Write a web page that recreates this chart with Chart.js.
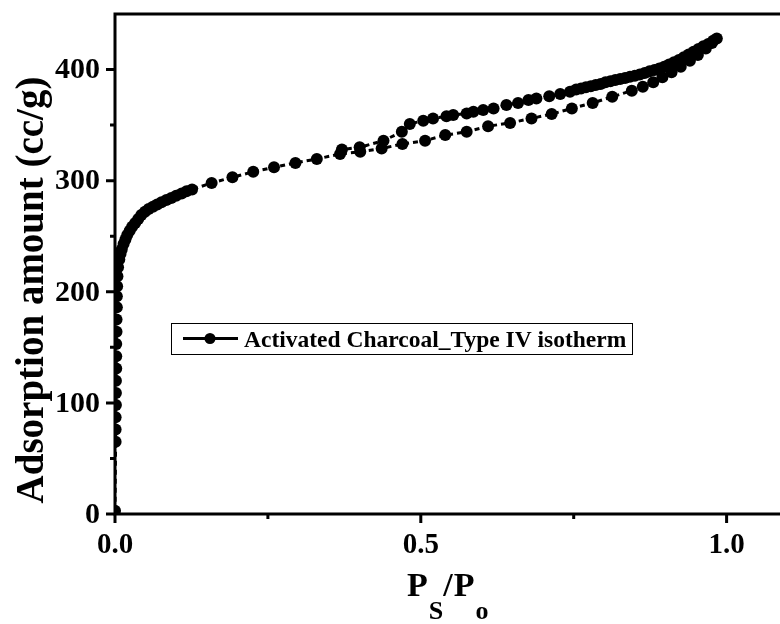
<!DOCTYPE html>
<html>
<head>
<meta charset="utf-8">
<script src="https://cdn.jsdelivr.net/npm/chart.js@4"></script>
<style>
html,body{margin:0;padding:0;background:#fff;overflow:hidden;}
#wrap{width:780px;height:624px;position:relative;}
#c{display:block;}
</style>
</head>
<body>
<div id="wrap"><canvas id="c" width="780" height="624"></canvas></div>
<script>
// ---- data ----
const adsX = [0.000,0.001,0.001,0.001,0.0015,0.0015,0.0015,0.002,0.002,0.002,0.0025,0.0025,0.003,0.003,0.0035,0.004,0.005,0.007,0.009,0.011,0.014,0.017,0.020,0.024,0.028,0.033,0.038,0.043,0.049,0.055,0.062,0.069,0.076,0.084,0.092,0.100,0.109,0.117,0.126,0.158,0.192,0.226,0.260,0.295,0.330,0.368,0.401,0.436,0.470,0.507,0.540,0.575,0.610,0.646,0.681,0.714,0.747,0.781,0.813,0.845,0.863,0.880,0.895,0.910,0.925,0.940,0.953,0.966,0.976,0.984];
const adsY = [3,65,76,87,98,109,120,131,142,153,164,175,186,196,205,214,222,229,234,238,243,247,251,255,258.5,262,265.5,269,272,274.5,276.5,278.5,280.5,282.5,284.5,286.5,288.5,290.5,292,298,303,308,312,316,319.5,324,326,329,333,336,341,344,349,352,356,360,365,370,375.5,381,384.5,388.5,393,397.5,402.5,408,413,419,424,428];
const desX = [0.978,0.970,0.962,0.954,0.946,0.938,0.930,0.922,0.914,0.906,0.898,0.890,0.882,0.874,0.866,0.858,0.850,0.842,0.834,0.826,0.818,0.810,0.802,0.794,0.786,0.778,0.770,0.762,0.754,0.744,0.728,0.710,0.689,0.676,0.659,0.640,0.619,0.602,0.586,0.575,0.553,0.542,0.520,0.504,0.482,0.469,0.439,0.400,0.371];
const desY = [426,423,421,418.5,416,413.5,411,408.5,406.5,404.5,402.5,401,399.5,398.5,397,395.5,394.5,393.5,392.5,391.5,390.5,389.5,388.5,387,386,385,384,383,382,380,378,376,374,372.5,370,368,365,363.5,362,360.5,359,358,356,354,351,344,336,330,328];
const seriesLabel = 'Activated Charcoal_Type IV isotherm';
const xMajorTicks = [0, 0.5, 1.0];
const xTickLabels = ['0.0', '0.5', '1.0'];
const xMinorTicks = [0.25, 0.75];
const yMajorTicks = [0, 100, 200, 300, 400];
const yTickLabels = ['0', '100', '200', '300', '400'];
const yMinorTicks = [50, 150, 250, 350];
const yTitle = 'Adsorption amount (cc/g)';

const points = [];
adsX.forEach((x,i)=>points.push({x:x, y:adsY[i]}));
desX.forEach((x,i)=>points.push({x:x, y:desY[i]}));

const SERIF = '"Liberation Serif", "Times New Roman", serif';

const decor = {
  id:'decor',
  afterDatasetsDraw(chart){
    const ctx = chart.ctx, a = chart.chartArea;
    const xs = chart.scales.x, ys = chart.scales.y;
    ctx.save();
    ctx.strokeStyle = '#000';
    ctx.fillStyle = '#000';
    ctx.lineWidth = 3;
    ctx.lineCap = 'butt';
    // axes / frame
    ctx.beginPath();
    ctx.moveTo(a.left, a.bottom); ctx.lineTo(a.right, a.bottom);
    ctx.moveTo(a.left, a.bottom+1.5); ctx.lineTo(a.left, a.top-1.5);
    ctx.moveTo(a.left-1.5, a.top); ctx.lineTo(a.right, a.top);
    ctx.stroke();
    // ticks
    ctx.beginPath();
    xMajorTicks.forEach(v=>{const p=xs.getPixelForValue(v); ctx.moveTo(p,a.bottom); ctx.lineTo(p,a.bottom+9);});
    xMinorTicks.forEach(v=>{const p=xs.getPixelForValue(v); ctx.moveTo(p,a.bottom); ctx.lineTo(p,a.bottom+5);});
    yMajorTicks.forEach(v=>{const p=ys.getPixelForValue(v); ctx.moveTo(a.left,p); ctx.lineTo(a.left-9,p);});
    yMinorTicks.forEach(v=>{const p=ys.getPixelForValue(v); ctx.moveTo(a.left,p); ctx.lineTo(a.left-5,p);});
    ctx.stroke();
    // tick labels
    ctx.font = 'bold 30px ' + SERIF;
    ctx.textAlign = 'right'; ctx.textBaseline = 'middle';
    yMajorTicks.forEach((v,i)=>{ ctx.fillText(yTickLabels[i], a.left-15, ys.getPixelForValue(v)+1); });
    ctx.font = 'bold 29px ' + SERIF;
    ctx.textAlign = 'center'; ctx.textBaseline = 'alphabetic';
    xMajorTicks.forEach((v,i)=>{ ctx.fillText(xTickLabels[i], xs.getPixelForValue(v), 553); });

    // legend
    ctx.lineWidth = 1;
    ctx.strokeRect(171.5, 323.5, 461, 31);
    ctx.lineWidth = 3;
    ctx.beginPath(); ctx.moveTo(183,338.5); ctx.lineTo(238,338.5); ctx.stroke();
    ctx.beginPath(); ctx.arc(210,338.5,5.5,0,Math.PI*2); ctx.fill();
    ctx.font = 'bold 23.5px ' + SERIF;
    ctx.textBaseline = 'alphabetic';
    ctx.textAlign = 'left';
    ctx.fillText(seriesLabel, 244, 346.5);

    // y title
    ctx.save();
    ctx.translate(43, 290);
    ctx.rotate(-Math.PI/2);
    ctx.font = 'bold 39px ' + SERIF;
    ctx.textAlign = 'center';
    ctx.textBaseline = 'alphabetic';
    ctx.fillText(yTitle, 0, 0);
    ctx.restore();

    // x title  P_S / P_o
    ctx.textAlign = 'left';
    let x = 407;
    ctx.font = 'bold 34px ' + SERIF; ctx.fillText('P', x, 596); x += ctx.measureText('P').width + 1;
    ctx.font = 'bold 26px ' + SERIF; ctx.fillText('S', x, 619); x += ctx.measureText('S').width;
    ctx.font = 'bold 34px ' + SERIF; ctx.fillText('/', x, 596); x += ctx.measureText('/').width + 1;
    ctx.fillText('P', x, 596); x += ctx.measureText('P').width + 1;
    ctx.font = 'bold 26px ' + SERIF; ctx.fillText('o', x, 619);
    ctx.restore();
  }
};

new Chart(document.getElementById('c'), {
  type: 'line',
  data: { datasets: [{
    label: seriesLabel,
    data: points,
    borderColor: '#000',
    backgroundColor: '#000',
    borderWidth: 3,
    borderDash: [5,4],
    pointRadius: 6,
    pointBorderWidth: 0,
    pointBackgroundColor: '#000',
    tension: 0,
    fill: false
  }]},
  options: {
    responsive: false,
    animation: false,
    devicePixelRatio: 1,
    layout: { autoPadding: false, padding: { top: 14, right: 0, left: 0, bottom: 0 } },
    plugins: { legend: { display: false }, tooltip: { enabled: false } },
    scales: {
      x: {
        type: 'linear', min: 0, max: 1.0873,
        border: { display: false },
        grid: { display: false, drawTicks: false },
        ticks: { display: false },
        afterFit: s => { s.height = 110; }
      },
      y: {
        min: 0, max: 450,
        border: { display: false },
        grid: { display: false, drawTicks: false },
        ticks: { display: false },
        afterFit: s => { s.width = 115; }
      }
    }
  },
  plugins: [decor]
});
</script>
</body>
</html>
